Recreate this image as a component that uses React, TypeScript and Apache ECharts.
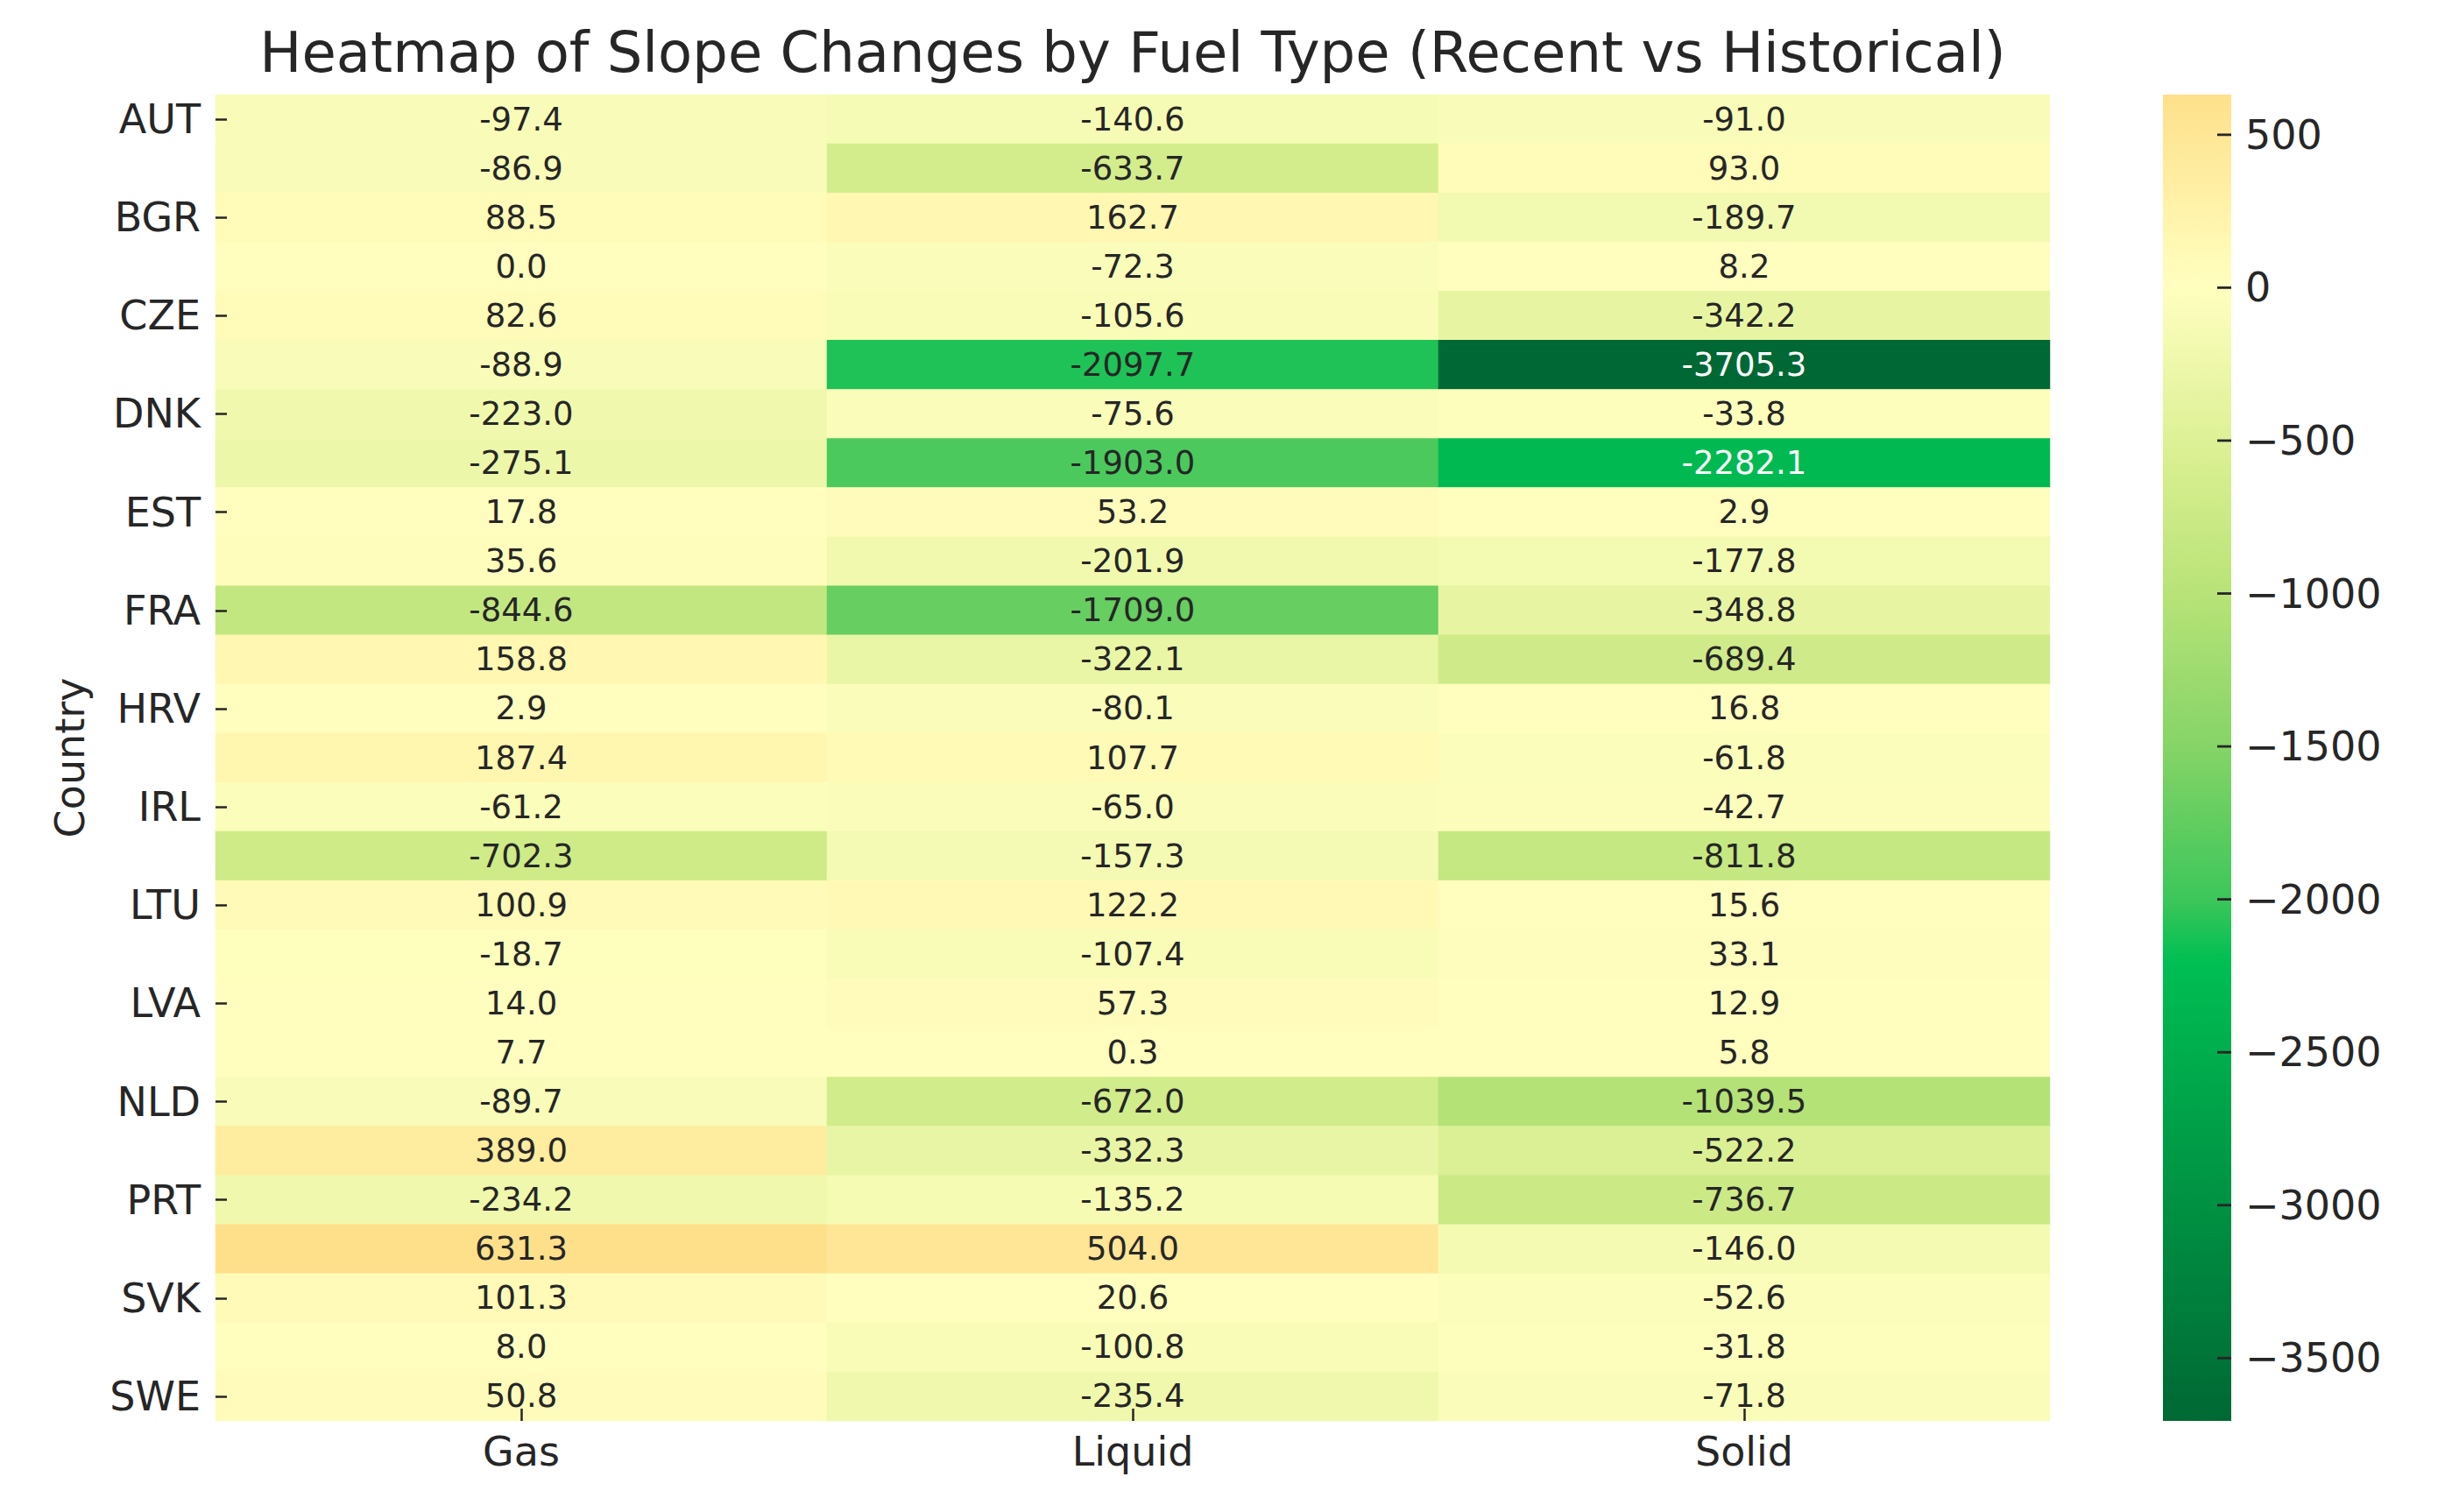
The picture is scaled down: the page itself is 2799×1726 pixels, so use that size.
import React, { useEffect, useRef } from "react";
import * as echarts from "echarts";

const chartTitle = "Heatmap of Slope Changes by Fuel Type (Recent vs Historical)";
const fuels = ["Gas", "Liquid", "Solid"];
const countries = [
  "AUT", "BEL", "BGR", "CYP", "CZE", "DEU", "DNK", "ESP", "EST", "FIN",
  "FRA", "GRC", "HRV", "HUN", "IRL", "ITA", "LTU", "LUX", "LVA", "MLT",
  "NLD", "POL", "PRT", "ROU", "SVK", "SVN", "SWE",
];
const gasValues = [
  -97.4, -86.9, 88.5, 0.0, 82.6, -88.9, -223.0, -275.1, 17.8, 35.6,
  -844.6, 158.8, 2.9, 187.4, -61.2, -702.3, 100.9, -18.7, 14.0, 7.7,
  -89.7, 389.0, -234.2, 631.3, 101.3, 8.0, 50.8,
];
const liquidValues = [
  -140.6, -633.7, 162.7, -72.3, -105.6, -2097.7, -75.6, -1903.0, 53.2, -201.9,
  -1709.0, -322.1, -80.1, 107.7, -65.0, -157.3, 122.2, -107.4, 57.3, 0.3,
  -672.0, -332.3, -135.2, 504.0, 20.6, -100.8, -235.4,
];
const solidValues = [
  -91.0, 93.0, -189.7, 8.2, -342.2, -3705.3, -33.8, -2282.1, 2.9, -177.8,
  -348.8, -689.4, 16.8, -61.8, -42.7, -811.8, 15.6, 33.1, 12.9, 5.8,
  -1039.5, -522.2, -736.7, -146.0, -52.6, -31.8, -71.8,
];
const colorbarTicks = [500, 0, -500, -1000, -1500, -2000, -2500, -3000, -3500];

// colormap key stops (value -> colour)
const cmapStops: [number, string][] = [
  [-3705.3, "#006834"],
  [-2200, "#00BF53"],
  [-2000, "#3DC65A"],
  [-1500, "#86D467"],
  [-1000, "#B8E378"],
  [-600, "#D6EE8E"],
  [0, "#FFFFBF"],
  [631.3, "#FEE08B"],
];

const FONT = "DejaVu Sans";
const INK = "#262626";

function hexToRgb(h: string) {
  const n = parseInt(h.slice(1), 16);
  return [(n >> 16) & 255, (n >> 8) & 255, n & 255];
}
function colorAt(v: number) {
  for (let i = 0; i < cmapStops.length - 1; i++) {
    const [v0, c0] = cmapStops[i];
    const [v1, c1] = cmapStops[i + 1];
    if (v >= v0 && v <= v1) {
      const t = (v - v0) / (v1 - v0);
      const a = hexToRgb(c0);
      const b = hexToRgb(c1);
      const r = a.map((x, k) => Math.round(x + (b[k] - x) * t));
      return `rgb(${r[0]},${r[1]},${r[2]})`;
    }
  }
  return v < cmapStops[0][0] ? cmapStops[0][1] : cmapStops[cmapStops.length - 1][1];
}

export default function App() {
  const ref = useRef<HTMLDivElement>(null);
  useEffect(() => {
    document.body.style.margin = "0";
    const chart = echarts.init(ref.current!, null, { renderer: "svg", width: 2799, height: 1726 });
    const columns = [gasValues, liquidValues, solidValues];
    const all = columns.flat();
    const vMin = Math.min(...all);
    const vMax = Math.max(...all);
    const N = 120;
    const palette: string[] = [];
    for (let i = 0; i <= N; i++) palette.push(colorAt(vMin + ((vMax - vMin) * i) / N));
    // gradient for the colour bar, top = max
    const gradStops = palette.map((c, i) => ({ offset: 1 - i / N, color: c })).reverse();

    const data: any[] = [];
    columns.forEach((col, x) => {
      col.forEach((v, y) => {
        data.push({
          value: [x, y, v],
          label: { color: v < -2200 ? "#ffffff" : INK },
        });
      });
    });

    const gridL = 246, gridT = 108, gridW = 2094, gridH = 1514;
    const cbL = 2469, cbW = 78;
    const cbTickLen = 16;
    const xr = cbL + cbW;
    // linear map of the colour-bar axis (same range as the axis min/max)
    const cbY = (v: number) => gridT + ((vMax - v) / (vMax - vMin)) * gridH;

    const titleEl = {
      id: "title",
      type: "text",
      x: gridL + gridW / 2,
      y: 60,
      style: {
        text: chartTitle,
        fontSize: 64,
        fontFamily: FONT,
        fill: INK,
        align: "center",
        verticalAlign: "middle",
      },
    };
    const barEl = {
      id: "cbar",
      type: "rect",
      z: 0,
      silent: true,
      shape: { x: cbL, y: gridT, width: cbW, height: gridH },
      style: { fill: new echarts.graphic.LinearGradient(0, 0, 0, 1, gradStops) },
    };
    const tickEls = colorbarTicks.map((v, i) => ({
      id: "cbtick" + i,
      type: "rect",
      z: 50,
      silent: true,
      shape: { x: xr - cbTickLen, y: cbY(v) - 1.4, width: cbTickLen, height: 2.8 },
      style: { fill: INK },
    }));

    chart.setOption({
      animation: false,
      backgroundColor: "#ffffff",
      textStyle: { fontFamily: FONT },
      graphic: { elements: [titleEl, barEl, ...tickEls] },
      grid: [
        { left: gridL, top: gridT, width: gridW, height: gridH, containLabel: false },
        { left: cbL, top: gridT, width: cbW, height: gridH, containLabel: false },
      ],
      xAxis: [
        {
          type: "category",
          gridIndex: 0,
          data: fuels,
          position: "bottom",
          z: 20,
          axisLine: { show: false },
          axisTick: { show: true, inside: true, length: 14, alignWithLabel: true, lineStyle: { color: INK, width: 2.5 } },
          axisLabel: { fontSize: 46, color: INK, margin: 12, fontFamily: FONT },
          splitLine: { show: false },
          splitArea: { show: false },
        },
        { type: "category", gridIndex: 1, data: ["cb"], show: false },
      ],
      yAxis: [
        {
          type: "category",
          gridIndex: 0,
          data: countries,
          inverse: true,
          z: 20,
          name: "Country",
          nameLocation: "middle",
          nameRotate: 90,
          nameGap: 143,
          nameTextStyle: { fontSize: 46, color: INK, fontFamily: FONT },
          axisLine: { show: false },
          axisTick: { show: true, inside: true, length: 13, interval: 1, alignWithLabel: true, lineStyle: { color: INK, width: 2.5 } },
          axisLabel: { fontSize: 46, color: INK, margin: 17, interval: 1, fontFamily: FONT },
          splitLine: { show: false },
          splitArea: { show: false },
        },
        {
          type: "value",
          gridIndex: 1,
          position: "right",
          min: vMin,
          max: vMax,
          z: 20,
          axisLine: { show: false },
          splitLine: { show: false },
          axisTick: { show: false },
          axisLabel: {
            show: true,
            customValues: colorbarTicks,
            fontSize: 46,
            color: INK,
            margin: 16,
            fontFamily: FONT,
            formatter: (v: number) => String(v).replace("-", "\u2212"),
          },
        },
      ],
      visualMap: {
        type: "continuous",
        show: false,
        min: vMin,
        max: vMax,
        dimension: 2,
        seriesIndex: 0,
        inRange: { color: palette },
      },
      series: [
        {
          type: "heatmap",
          xAxisIndex: 0,
          yAxisIndex: 0,
          z: 2,
          data,
          label: {
            show: true,
            fontSize: 37,
            fontFamily: FONT,
            formatter: (p: any) => p.value[2].toFixed(1),
          },
          itemStyle: { borderWidth: 0 },
          emphasis: { disabled: true },
        },
      ],
    });

    return () => chart.dispose();
  }, []);
  return <div ref={ref} style={{ width: 2799, height: 1726, position: "absolute", left: 0, top: 0 }} />;
}
